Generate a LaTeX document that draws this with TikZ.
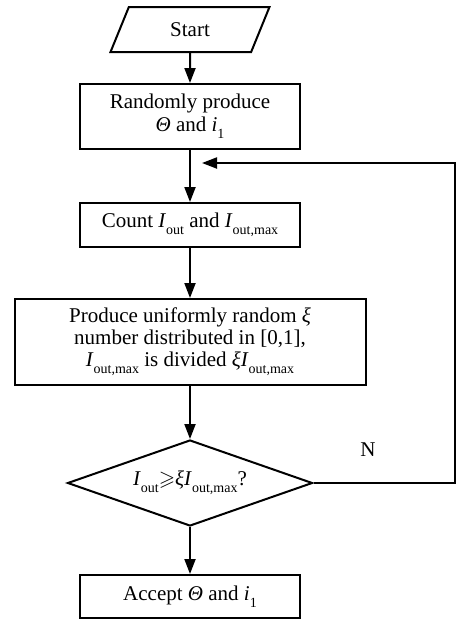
\documentclass[tikz,border=0pt]{standalone}
\usepackage{amssymb}
\usepackage{fontspec}
\setmainfont{Liberation Serif}
\usetikzlibrary{arrows.meta,shapes.geometric}
\newcommand{\sbx}[1]{\raisebox{-0.32em}{\fontsize{14}{14}\selectfont #1}}
\begin{document}
\begin{tikzpicture}[x=1pt,y=-1pt,
  font=\fontsize{21}{22}\selectfont,
  line width=2pt,
  flow/.style={-{Triangle[length=15pt 0 0,width=11pt 0 0]}},
  procbox/.style={draw,rectangle,align=center,inner sep=2pt},
  io/.style={draw,trapezium,trapezium left angle=71.5,trapezium right angle=108.5,trapezium stretches=true}]
\useasboundingbox (0,0) rectangle (463,622);
\node[io,minimum width=159,minimum height=45] (start) at (190,29.5) {Start};
\node[procbox,minimum width=220,minimum height=65] (b1) at (190,116.5) {Randomly produce\\[1pt]\textit{Θ} and \textit{i}\sbx{1}};
\node[procbox,minimum width=220,minimum height=44] (b2) at (190,225) {Count \textit{I}\sbx{out} and \textit{I}\sbx{out,max}};
\node[procbox,minimum width=351,minimum height=86] (b3) at (190,342) {Produce uniformly random \textit{ξ}\\number distributed in [0,1],\\\textit{I}\sbx{out,max} is divided \textit{ξI}\sbx{out,max}};
\node[draw,diamond,minimum width=245,minimum height=86,inner sep=0pt] (d) at (190,483) {};
\node at (d.center) {\textit{I}\sbx{out}$\geqslant$\textit{ξI}\sbx{out,max}?};
\node[procbox,minimum width=220,minimum height=43] (b4) at (190,596.5) {Accept \textit{Θ} and \textit{i}\sbx{1}};
\coordinate (r1) at (455,483);
\coordinate (r2) at (455,163);
\coordinate (fb) at (202,163);
\draw[flow] (start.south) -- (b1.north);
\draw[flow] (b1.south) -- (b2.north);
\draw[flow] (b2.south) -- (b3.north);
\draw[flow] (b3.south) -- (d.north);
\draw[flow] (d.south) -- (b4.north);
\draw[flow] (d.east) -- (r1) -- (r2) -- (fb);
\node (n) at (368,450) {N};
\end{tikzpicture}
\end{document}
